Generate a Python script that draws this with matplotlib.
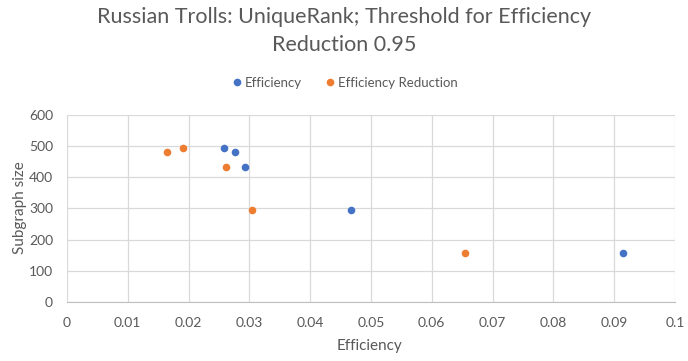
import matplotlib
matplotlib.use("Agg")
import matplotlib.pyplot as plt
from matplotlib.lines import Line2D

plt.rcParams['font.family'] = ['Lato', 'DejaVu Sans']

eff_x = [0.0258, 0.0276, 0.0292, 0.0467, 0.0915]
eff_y = [494, 481, 433, 295, 157]
red_x = [0.0165, 0.0191, 0.0262, 0.0305, 0.0655]
red_y = [481, 494, 433, 295, 157]
x_ticks = [0, 0.01, 0.02, 0.03, 0.04, 0.05, 0.06, 0.07, 0.08, 0.09, 0.1]
x_labels = ["0", "0.01", "0.02", "0.03", "0.04", "0.05", "0.06", "0.07", "0.08", "0.09", "0.1"]
y_ticks = [0, 100, 200, 300, 400, 500, 600]

blue = "#4472C4"
orange = "#ED7D31"
gray = "#595959"

fig = plt.figure(figsize=(6.88, 3.61), dpi=100)
ax = fig.add_axes([67/688, 1-302/361, (675-67)/688, (302-115)/361])

ax.scatter(eff_x, eff_y, s=30, color=blue, zorder=3, linewidths=0, label="Efficiency")
ax.scatter(red_x, red_y, s=30, color=orange, zorder=3, linewidths=0, label="Efficiency Reduction")

ax.set_xlim(0, 0.1)
ax.set_ylim(0, 600)
ax.set_xticks(x_ticks)
ax.set_xticklabels(x_labels)
ax.set_yticks(y_ticks)
ax.grid(True, color="#D9D9D9", linewidth=0.9)
ax.set_axisbelow(True)
for s in ["top", "right", "left"]:
    ax.spines[s].set_visible(False)
ax.spines["bottom"].set_color("#BFBFBF")
ax.tick_params(axis="both", length=0, colors=gray, labelsize=10)
ax.tick_params(axis="x", pad=11)
ax.tick_params(axis="y", pad=10)

ax.set_xlabel("Efficiency", color=gray, fontsize=11)
ax.set_ylabel("Subgraph size", color=gray, fontsize=11)
ax.xaxis.set_label_coords((370-67)/608, (302-339)/187)
ax.yaxis.set_label_coords((27-67)/608, (302-208)/187)

fig.text(0.5, 1-31/361, "Russian Trolls: UniqueRank; Threshold for Efficiency\nReduction 0.95",
         ha="center", va="center", fontsize=15.5, color=gray, linespacing=1.45)

handles = [Line2D([], [], marker="o", linestyle="none", color=blue, markersize=5.5, markeredgewidth=0),
           Line2D([], [], marker="o", linestyle="none", color=orange, markersize=5.5, markeredgewidth=0)]
fig.legend(handles, ["Efficiency", "Efficiency Reduction"], loc="center", bbox_to_anchor=(0.5, 1-83/361),
           ncol=2, frameon=False, fontsize=9.5, labelcolor=gray, handletextpad=0.1, columnspacing=1.6,
           handlelength=1.0)

fig.savefig("out.png", dpi=100)
